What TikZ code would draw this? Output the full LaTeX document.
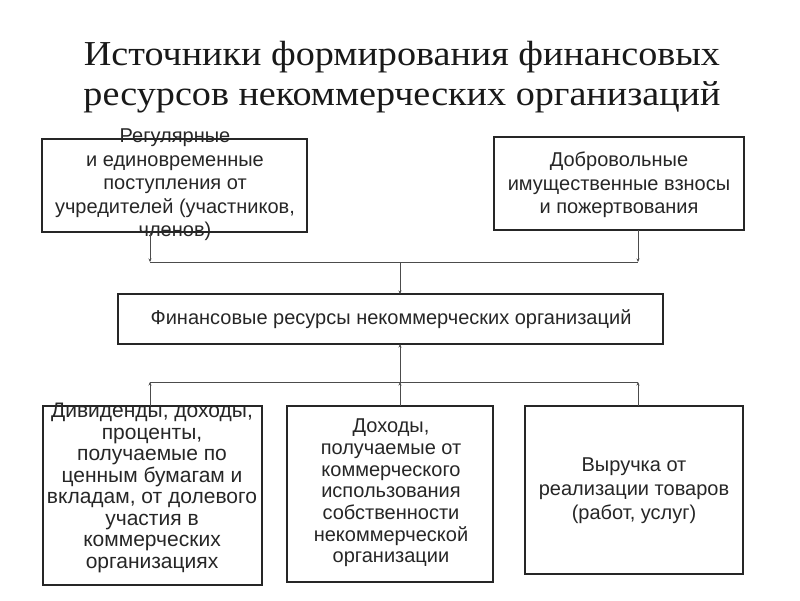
\documentclass[tikz,border=0pt]{standalone}
\usepackage{fontspec}
\setmainfont{Liberation Serif}
\newfontfamily\boxfont{Liberation Sans}
\newfontfamily\titlefont[FakeStretch=1.09]{Liberation Serif}
\usetikzlibrary{arrows.meta}
\begin{document}
\begin{tikzpicture}[x=1pt,y=-1pt,
  frame/.style={draw=black!85,line width=1.5pt,inner sep=0pt,outer sep=0pt},
  txt/.style={align=center,font=\boxfont\fontsize{20}{23.5}\selectfont,text=black!85,inner sep=0pt},
  lowtxt/.style={txt,font=\boxfont\fontsize{20}{21.7}\selectfont},
  ttl/.style={align=center,font=\titlefont\fontsize{35}{40}\selectfont,text=black!90,inner sep=0pt},
  conn/.style={draw=black!70,line width=0.9pt},
  arr/.style={conn,-{Stealth[length=3.5pt,width=3pt]}}]
\useasboundingbox (0,0) rectangle (800,600);
% title
\node[ttl] (title) at (402,77) {Источники формирования финансовых\\ресурсов некоммерческих организаций};
% top boxes
\node[frame,minimum width=265pt,minimum height=93pt] (b1) at (174.5,185.5) {};
\node[txt] (t1) at (175,185) {Регулярные\\и единовременные\\поступления от\\учредителей (участников,\\членов)};
\node[frame,minimum width=250pt,minimum height=93pt] (b2) at (619,183.5) {};
\node[txt] (t2) at (619,185) {Добровольные\\имущественные взносы\\и пожертвования};
% main box
\node[frame,minimum width=545pt,minimum height=50pt] (main) at (390.5,319) {};
\node[txt] (tm) at (391,319) {Финансовые ресурсы некоммерческих организаций};
% bottom boxes
\node[frame,minimum width=219pt,minimum height=179pt] (b3) at (152.5,495.5) {};
\node[lowtxt,font=\boxfont\fontsize{21}{21.5}\selectfont] (t3) at (152,488) {Дивиденды, доходы,\\проценты,\\получаемые по\\ценным бумагам и\\вкладам, от долевого\\участия в\\коммерческих\\организациях};
\node[frame,minimum width=206pt,minimum height=176pt] (b4) at (390,494) {};
\node[lowtxt] (t4) at (391,493) {Доходы,\\получаемые от\\коммерческого\\использования\\собственности\\некоммерческой\\организации};
\node[frame,minimum width=218pt,minimum height=168pt] (b5) at (634,490) {};
\node[txt,font=\boxfont\fontsize{20}{24}\selectfont] (t5) at (634,491) {Выручка от\\реализации товаров\\(работ, услуг)};
% junction coordinates
\coordinate (j1) at (150,262);
\coordinate (jc) at (400,262);
\coordinate (j2) at (638,262);
\coordinate (k1) at (150,382);
\coordinate (kc) at (400,382);
\coordinate (k2) at (638,382);
% connectors
\draw[arr] (b1.south -| j1) -- (j1);
\draw[arr] (b2.south -| j2) -- (j2);
\draw[conn] (j1) -- (j2);
\draw[arr] (jc) -- (main.north -| jc);
\draw[arr] (kc) -- (main.south -| kc);
\draw[conn] (k1) -- (k2);
\draw[arr] (b3.north -| k1) -- (k1);
\draw[arr] (b4.north -| kc) -- (kc);
\draw[arr] (b5.north -| k2) -- (k2);
\end{tikzpicture}
\end{document}
